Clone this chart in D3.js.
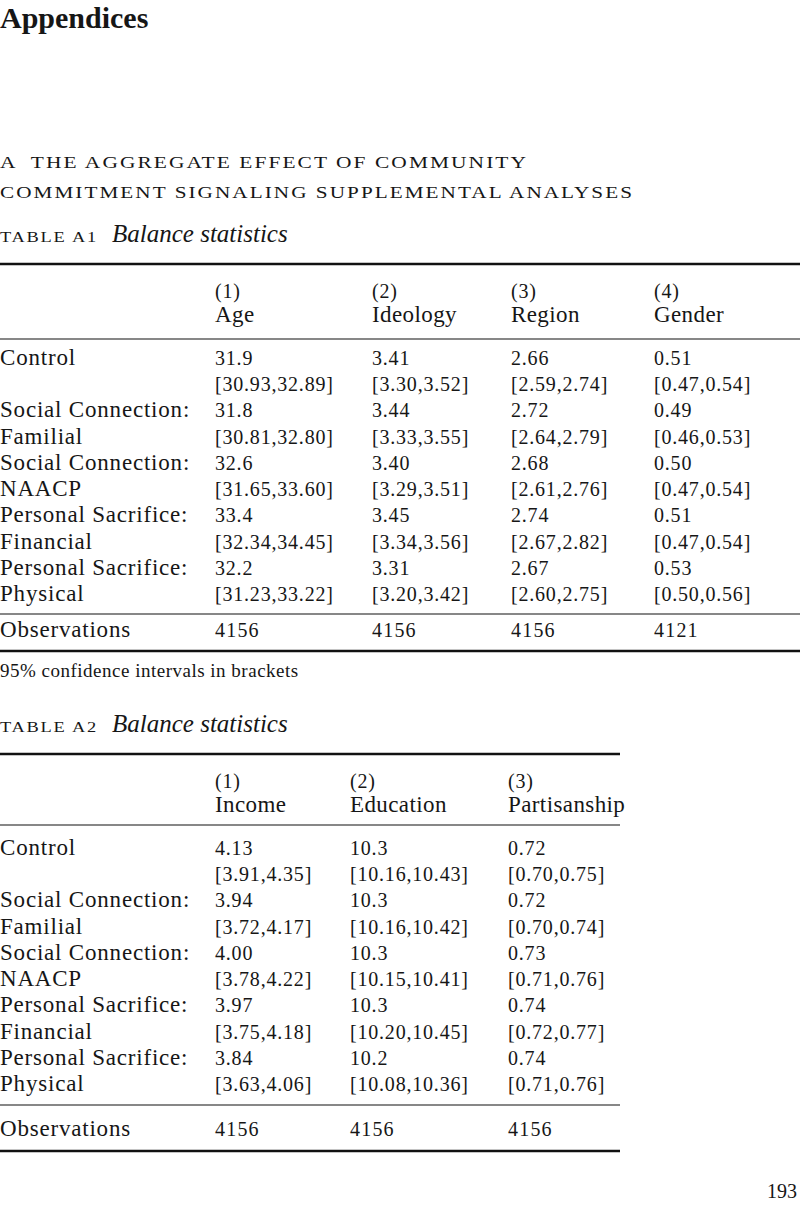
<!DOCTYPE html>
<html>
<head>
<meta charset="utf-8">
<script src="https://cdn.jsdelivr.net/npm/d3@7"></script>
<style>
  html, body { margin: 0; padding: 0; background: #fff; }
  svg { display: block; }
  text { fill: #161616; font-family: "Liberation Serif", "Times New Roman", serif; }
  .section { white-space: pre; }
</style>
</head>
<body>
<div id="page"></div>
<script>
// page text
const pageTitle = "Appendices";
const sectionLines = ["A  THE AGGREGATE EFFECT OF COMMUNITY", "COMMITMENT SIGNALING SUPPLEMENTAL ANALYSES"];
const pageNumber = "193";
const noteText = "95% confidence intervals in brackets";

// stub labels (two lines per treatment group)
const stubLines = [
  "Control", "",
  "Social Connection:", "Familial",
  "Social Connection:", "NAACP",
  "Personal Sacrifice:", "Financial",
  "Personal Sacrifice:", "Physical"
];

// table A1
const t1Numbers = ["(1)", "(2)", "(3)", "(4)"];
const t1Columns = ["Age", "Ideology", "Region", "Gender"];
const t1Estimates = [
  ["31.9", "3.41", "2.66", "0.51"],
  ["31.8", "3.44", "2.72", "0.49"],
  ["32.6", "3.40", "2.68", "0.50"],
  ["33.4", "3.45", "2.74", "0.51"],
  ["32.2", "3.31", "2.67", "0.53"]
];
const t1Intervals = [
  ["[30.93,32.89]", "[3.30,3.52]", "[2.59,2.74]", "[0.47,0.54]"],
  ["[30.81,32.80]", "[3.33,3.55]", "[2.64,2.79]", "[0.46,0.53]"],
  ["[31.65,33.60]", "[3.29,3.51]", "[2.61,2.76]", "[0.47,0.54]"],
  ["[32.34,34.45]", "[3.34,3.56]", "[2.67,2.82]", "[0.47,0.54]"],
  ["[31.23,33.22]", "[3.20,3.42]", "[2.60,2.75]", "[0.50,0.56]"]
];
const t1Observations = ["4156", "4156", "4156", "4121"];

// table A2
const t2Numbers = ["(1)", "(2)", "(3)"];
const t2Columns = ["Income", "Education", "Partisanship"];
const t2Estimates = [
  ["4.13", "10.3", "0.72"],
  ["3.94", "10.3", "0.72"],
  ["4.00", "10.3", "0.73"],
  ["3.97", "10.3", "0.74"],
  ["3.84", "10.2", "0.74"]
];
const t2Intervals = [
  ["[3.91,4.35]", "[10.16,10.43]", "[0.70,0.75]"],
  ["[3.72,4.17]", "[10.16,10.42]", "[0.70,0.74]"],
  ["[3.78,4.22]", "[10.15,10.41]", "[0.71,0.76]"],
  ["[3.75,4.18]", "[10.20,10.45]", "[0.72,0.77]"],
  ["[3.63,4.06]", "[10.08,10.36]", "[0.71,0.76]"]
];
const t2Observations = ["4156", "4156", "4156"];

const W = 800, H = 1205;
const bodySize = 23, numSize = 20;

const svg = d3.select("#page").append("svg")
  .attr("width", W)
  .attr("height", H);

svg.append("text")
  .attr("x", 0).attr("y", 28)
  .style("font-size", "30px")
  .style("font-weight", "bold")
  .text(pageTitle);

// section heading, set wide like small caps
svg.selectAll(".section")
  .data(sectionLines)
  .join("text")
  .attr("class", "section")
  .attr("x", 0)
  .attr("y", (d, i) => 168 + i * 30)
  .attr("textLength", (d, i) => i === 0 ? 528 : 634)
  .attr("lengthAdjust", "spacingAndGlyphs")
  .style("font-size", "16.5px")
  .style("letter-spacing", "1.6px")
  .text(d => d);

function caption(y, label) {
  svg.append("text")
    .attr("x", 0).attr("y", y)
    .attr("textLength", 98)
    .attr("lengthAdjust", "spacingAndGlyphs")
    .style("font-size", "15.5px")
    .style("letter-spacing", "1.5px")
    .text(label);
  svg.append("text")
    .attr("x", 112).attr("y", y)
    .style("font-size", "25px")
    .style("font-style", "italic")
    .text("Balance statistics");
}

function drawTable(cfg) {
  const g = svg.append("g");
  const x = d3.scaleOrdinal(cfg.columns, cfg.colX);
  const rowY = d3.scaleLinear().domain([0, 9]).range(cfg.rowRange);

  const rule = (y, w) => g.append("line")
    .attr("x1", 0).attr("x2", cfg.width)
    .attr("y1", y).attr("y2", y)
    .attr("stroke", "#111")
    .attr("stroke-width", w);

  rule(cfg.top, 2.6);
  rule(cfg.headRule, 1.2);
  rule(cfg.obsRule, 1.2);
  rule(cfg.bottom, 2.6);

  // column heads
  g.selectAll(".num")
    .data(cfg.columns)
    .join("text")
    .attr("x", d => x(d))
    .attr("y", cfg.headY[0])
    .style("font-size", numSize + "px")
    .style("letter-spacing", "0.8px")
    .text((d, i) => cfg.numbers[i]);

  g.selectAll(".head")
    .data(cfg.columns)
    .join("text")
    .attr("x", d => x(d))
    .attr("y", cfg.headY[1])
    .style("font-size", bodySize + "px")
    .style("letter-spacing", "0.4px")
    .text(d => d);

  // stub
  g.selectAll(".stub")
    .data(stubLines)
    .join("text")
    .attr("x", 0)
    .attr("y", (d, i) => rowY(i))
    .style("font-size", bodySize + "px")
    .style("letter-spacing", "0.8px")
    .text(d => d);

  // body cells
  const cells = [];
  cfg.estimates.forEach((row, r) => row.forEach((v, c) => {
    cells.push({ col: cfg.columns[c], line: r * 2, value: v });
    cells.push({ col: cfg.columns[c], line: r * 2 + 1, value: cfg.intervals[r][c] });
  }));

  g.selectAll(".cell")
    .data(cells)
    .join("text")
    .attr("x", d => x(d.col))
    .attr("y", d => rowY(d.line))
    .style("font-size", numSize + "px")
    .style("letter-spacing", "0.8px")
    .text(d => d.value);

  g.append("text")
    .attr("x", 0).attr("y", cfg.obsY)
    .style("font-size", bodySize + "px")
    .style("letter-spacing", "0.8px")
    .text("Observations");

  g.selectAll(".obs")
    .data(cfg.observations)
    .join("text")
    .attr("x", (d, i) => x(cfg.columns[i]))
    .attr("y", cfg.obsY)
    .style("font-size", numSize + "px")
    .style("letter-spacing", "1.2px")
    .text(d => d);
}

caption(242, "TABLE A1");
drawTable({
  columns: t1Columns, numbers: t1Numbers,
  estimates: t1Estimates, intervals: t1Intervals, observations: t1Observations,
  colX: [215, 372, 511, 654], width: W,
  top: 264, headY: [298, 322], headRule: 339,
  rowRange: [365, 601], obsRule: 614, obsY: 637, bottom: 651
});

svg.append("text")
  .attr("x", 0).attr("y", 677)
  .style("font-size", "19px")
  .style("letter-spacing", "0.5px")
  .text(noteText);

caption(732, "TABLE A2");
drawTable({
  columns: t2Columns, numbers: t2Numbers,
  estimates: t2Estimates, intervals: t2Intervals, observations: t2Observations,
  colX: [215, 350, 508], width: 620,
  top: 754, headY: [788, 812], headRule: 825,
  rowRange: [855, 1091], obsRule: 1105, obsY: 1136, bottom: 1151
});

svg.append("text")
  .attr("x", 797).attr("y", 1198)
  .attr("text-anchor", "end")
  .style("font-size", "20px")
  .text(pageNumber);
</script>
</body>
</html>
